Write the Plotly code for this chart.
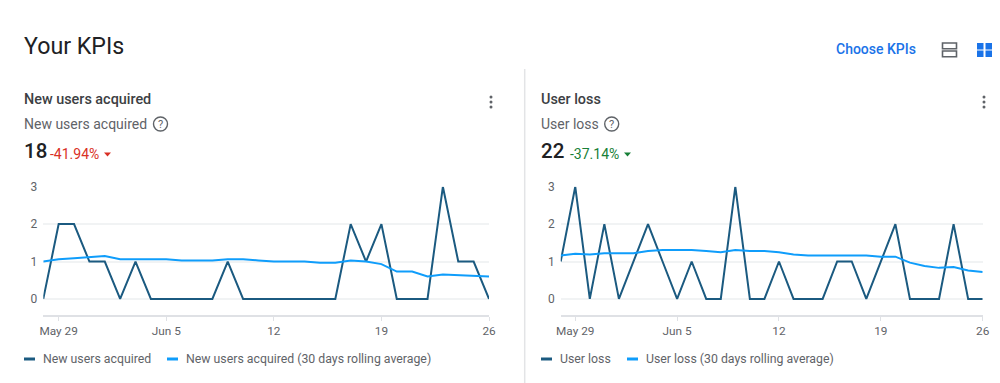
import plotly.graph_objects as go

W, H = 1000, 383
dates = ["2022-05-28", "2022-05-29", "2022-05-30", "2022-05-31", "2022-06-01", "2022-06-02",
         "2022-06-03", "2022-06-04", "2022-06-05", "2022-06-06", "2022-06-07", "2022-06-08",
         "2022-06-09", "2022-06-10", "2022-06-11", "2022-06-12", "2022-06-13", "2022-06-14",
         "2022-06-15", "2022-06-16", "2022-06-17", "2022-06-18", "2022-06-19", "2022-06-20",
         "2022-06-21", "2022-06-22", "2022-06-23", "2022-06-24", "2022-06-25", "2022-06-26"]
new_users = [0, 2, 2, 1, 1, 0, 1, 0, 0, 0, 0, 0, 1, 0, 0, 0, 0, 0, 0, 0, 2, 1, 2, 0, 0, 0, 3, 1, 1, 0]
new_users_avg = [1.0, 1.06, 1.09, 1.12, 1.15, 1.06, 1.06, 1.06, 1.06, 1.03, 1.03, 1.03, 1.06, 1.06, 1.03,
                 1.0, 1.0, 1.0, 0.97, 0.97, 1.03, 1.0, 0.93, 0.73, 0.73, 0.6, 0.65, 0.63, 0.63, 0.6]
user_loss = [1, 3, 0, 2, 0, 1, 2, 1, 0, 1, 0, 0, 3, 0, 0, 1, 0, 0, 0, 1, 1, 0, 1, 2, 0, 0, 0, 2, 0, 0]
user_loss_avg = [1.16, 1.21, 1.19, 1.22, 1.22, 1.22, 1.28, 1.31, 1.31, 1.31, 1.28, 1.25, 1.31, 1.28, 1.28,
                 1.25, 1.19, 1.16, 1.16, 1.16, 1.16, 1.16, 1.13, 1.13, 0.97, 0.88, 0.83, 0.85, 0.76, 0.72]
tick_dates = ["2022-05-29", "2022-06-05", "2022-06-12", "2022-06-19", "2022-06-26"]
tick_labels = ["May 29", "Jun 5", "12", "19", "26"]
y_ticks = [0, 1, 2, 3]

DARK, LIGHT = "#1b5a80", "#0f9dfb"
GRAY, INK = "#5f6368", "#202124"
FONT = "Roboto"


def px(v):
    return v / W


def py(v):
    return 1 - v / H


fig = go.Figure()
annotations, shapes = [], []


def text(s, x, y, size, color=GRAY, anchor="left", weight=None):
    annotations.append(dict(text=s, x=px(x), y=py(y), xref="paper", yref="paper", xanchor=anchor,
                            yanchor="middle", showarrow=False, borderpad=0, borderwidth=0,
                            font=dict(family=FONT, size=size, color=color, weight=weight or 400)))


def shape(kind, x0, y0, x1, y1, **kw):
    shapes.append(dict(type=kind, xref="paper", yref="paper", x0=px(x0), x1=px(x1), y0=py(y0), y1=py(y1), **kw))


def path(points, color):
    d = "M" + " L".join(f"{px(a)},{py(b)}" for a, b in points) + " Z"
    shapes.append(dict(type="path", xref="paper", yref="paper", path=d, fillcolor=color, line=dict(width=0)))


def panel(idx, x0, x1, name, actual, avg, value, delta, delta_col, help_x, kebab_x, leg):
    suffix = "" if idx == 1 else str(idx)
    fig.add_trace(go.Scatter(x=dates, y=actual, mode="lines", name=name, xaxis=f"x{suffix}", yaxis=f"y{suffix}",
                             line=dict(color=DARK, width=2), cliponaxis=False, showlegend=False))
    fig.add_trace(go.Scatter(x=dates, y=avg, mode="lines", name=f"{name} (30 days rolling average)",
                             xaxis=f"x{suffix}", yaxis=f"y{suffix}", line=dict(color=LIGHT, width=2),
                             cliponaxis=False, showlegend=False))
    fig.update_layout(**{
        f"xaxis{suffix}": dict(domain=[px(x0), px(x1)], range=[dates[0], dates[-1]], type="date",
                               tickmode="array", tickvals=tick_dates, ticktext=tick_labels,
                               showgrid=False, zeroline=False, showline=True, linecolor="#dfe1e5", linewidth=1.5,
                               ticks="outside", ticklen=4, tickcolor="#dfe1e5", tickwidth=1,
                               tickfont=dict(family=FONT, size=11.8, color=GRAY), anchor=f"y{suffix}"),
        f"yaxis{suffix}": dict(domain=[py(315), py(186.7)], range=[-0.43, 3], tickmode="array", tickvals=y_ticks,
                               showgrid=True, gridcolor="#f1f3f4", gridwidth=1.5, zeroline=False, showline=False,
                               ticks="", ticklabelstandoff=5,
                               tickfont=dict(family=FONT, size=12, color=GRAY), anchor=f"x{suffix}"),
    })
    left = leg[0]
    text(name, left, 99, 14.4, "#3c4043", weight=500)
    text(name, left, 124, 14, GRAY)
    text(value, left, 151, 20.5, INK, weight=500)
    vw = 26 if idx == 1 else 29
    text(delta, left + vw, 154, 14, delta_col)
    tx = left + vw + 54
    path([(tx, 152.5), (tx + 7, 152.5), (tx + 3.5, 156.5)], delta_col)
    shape("circle", help_x - 7, 117, help_x + 7, 131, line=dict(color=GRAY, width=1.4))
    text("?", help_x, 124, 11, GRAY, anchor="center")
    for yy in (97, 102, 107):
        shape("circle", kebab_x - 1.5, yy - 1.5, kebab_x + 1.5, yy + 1.5, fillcolor="#5f6368", line=dict(width=0))
    shape("line", leg[0], 359, leg[0] + 11, 359, line=dict(color=DARK, width=3))
    text(name, leg[0] + 19, 359, 12.3, GRAY)
    shape("line", leg[1], 359, leg[1] + 11, 359, line=dict(color=LIGHT, width=3))
    text(f"{name} (30 days rolling average)", leg[1] + 19, 359, 12.3, GRAY)


panel(1, 43.3, 489, "New users acquired", new_users, new_users_avg, "18", "-41.94%", "#d93025", 160.5, 491, (24, 167))
panel(2, 560.7, 982.7, "User loss", user_loss, user_loss_avg, "22", "-37.14%", "#188038", 611.7, 984, (541, 627))

text("Your KPIs", 24, 46, 23.2, INK)
text("Choose KPIs", 836, 49, 14, "#1a73e8", weight=500)
# view toggles
shape("rect", 942.5, 43, 956.5, 48.7, line=dict(color=GRAY, width=1.6))
shape("rect", 942.5, 51, 956.5, 56.7, line=dict(color=GRAY, width=1.6))
for a, b in ((977, 43), (985.5, 43), (977, 50.5), (985.5, 50.5)):
    shape("rect", a, b, a + 6.5, b + 6.5, fillcolor="#1a73e8", line=dict(width=0))
# divider between cards
shape("line", 524.7, 69, 524.7, 383, line=dict(color="#e3e4e6", width=1.5))

fig.update_layout(width=W, height=H, autosize=False, margin=dict(l=0, r=0, t=0, b=0, pad=0, autoexpand=False),
                  paper_bgcolor="white", plot_bgcolor="white", showlegend=False,
                  annotations=annotations, shapes=shapes, font=dict(family=FONT))
fig.write_html("out.html", config={"displayModeBar": False},
               post_script="document.body.style.margin='0';document.documentElement.style.overflow='hidden';")
